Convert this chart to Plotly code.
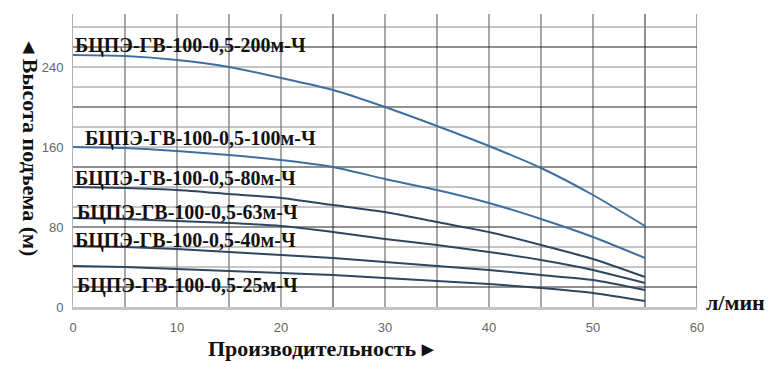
import plotly.graph_objects as go

flow = [0, 5, 10, 15, 20, 25, 30, 35, 40, 45, 50, 55]
head_200 = [252, 251, 247, 240, 229, 217, 200, 181, 161, 139, 112, 81]
head_100 = [160, 159, 156, 152, 147, 140, 128, 117, 104, 88, 70, 49]
head_80 = [120, 119, 117, 113, 109, 102, 95, 85, 75, 62, 48, 30]
head_63 = [89, 88, 86, 84, 81, 75, 68, 62, 55, 47, 37, 24]
head_40 = [61, 60, 58, 55, 52, 49, 45, 41, 37, 32, 27, 17]
head_25 = [41, 40, 38, 36, 34, 32, 29, 26, 23, 19, 14, 6]

names = ["БЦПЭ-ГВ-100-0,5-200м-Ч", "БЦПЭ-ГВ-100-0,5-100м-Ч", "БЦПЭ-ГВ-100-0,5-80м-Ч",
         "БЦПЭ-ГВ-100-0,5-63м-Ч", "БЦПЭ-ГВ-100-0,5-40м-Ч", "БЦПЭ-ГВ-100-0,5-25м-Ч"]
series = [head_200, head_100, head_80, head_63, head_40, head_25]
colors = ["#3f6f9f", "#3f6f9f", "#2e4660", "#2e4660", "#2e4660", "#2e4660"]
label_x = [0, 1, 0, 0.2, 0, 0.2]
label_y = [262, 169, 129, 95, 67, 22]

x_grid = [5, 10, 15, 20, 30, 35, 40, 45, 50, 60]
y_grid = [40, 60, 100, 120, 160, 180, 220, 240, 280]
x_dark = [25, 55]
y_dark = [20, 80, 140, 200, 260]

fig = go.Figure()
for name, ys, c in zip(names, series, colors):
    fig.add_trace(go.Scatter(x=flow, y=ys, mode="lines", name=name,
                             line=dict(color=c, width=2, shape="spline", smoothing=0.6)))

for xs, col in ((x_grid, "#505050"), (x_dark, "#222")):
    for xv in xs:
        fig.add_shape(type="line", xref="x", yref="paper", x0=xv, x1=xv, y0=0, y1=1,
                      line=dict(color=col, width=1), layer="between")
for ys_, col in ((y_grid, "#8c8c8c"), (y_dark, "#222")):
    for yv in ys_:
        fig.add_shape(type="line", xref="paper", yref="y", x0=0, x1=1, y0=yv, y1=yv,
                      line=dict(color=col, width=1), layer="between")

serif = "Liberation Serif"
for name, lx, ly in zip(names, label_x, label_y):
    fig.add_annotation(x=lx, y=ly, text="<b>" + name + "</b>", showarrow=False,
                       xanchor="left", yanchor="middle",
                       font=dict(family=serif, size=20, color="#111"))

fig.add_annotation(xref="paper", yref="paper", x=-0.068, y=0.54,
                   text="<b>◂ Высота подъема (м)</b>", textangle=90, showarrow=False,
                   xanchor="center", yanchor="middle",
                   font=dict(family=serif, size=22, color="#111"))
fig.add_annotation(xref="paper", yref="paper", x=0.398, y=-0.142,
                   text="<b>Производительность ▸</b>", showarrow=False,
                   xanchor="center", yanchor="middle",
                   font=dict(family=serif, size=22, color="#111"))
fig.add_annotation(xref="paper", yref="paper", x=1.012, y=0.015, text="<b>л/мин</b>",
                   xanchor="left", yanchor="middle", showarrow=False,
                   font=dict(family=serif, size=22, color="#111"))

axis_font = dict(family="Liberation Sans", size=13, color="#666")
fig.update_layout(
    width=780, height=371, margin=dict(l=73, r=83, t=14, b=64),
    paper_bgcolor="white", plot_bgcolor="white", showlegend=False,
    xaxis=dict(range=[0, 60], tick0=0, dtick=10, showgrid=False, zeroline=False,
               showline=True, linecolor="#c4c4c4", linewidth=3, ticks="",
               tickfont=axis_font, ticklabelstandoff=6),
    yaxis=dict(range=[0, 293], tick0=0, dtick=80, showgrid=False, zeroline=False,
               showline=True, linecolor="#b0b0b0", linewidth=1, ticks="",
               tickfont=axis_font, ticklabelstandoff=6),
)
fig.write_html("out.html")
